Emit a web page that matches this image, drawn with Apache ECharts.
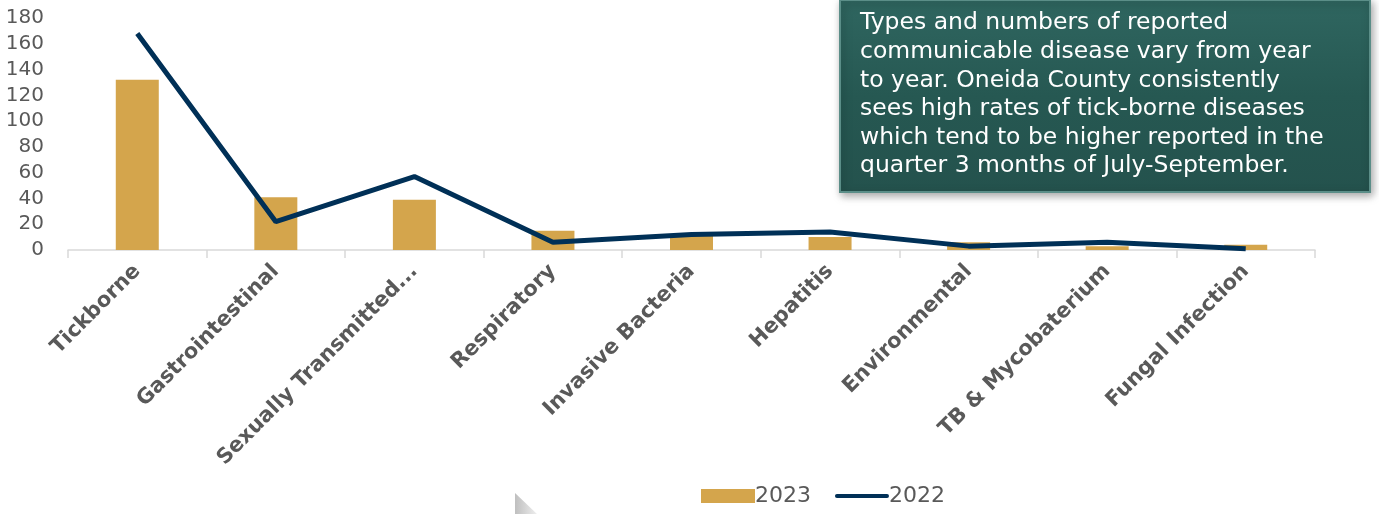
<!DOCTYPE html>
<html><head><meta charset="utf-8">
<script src="https://cdn.jsdelivr.net/npm/echarts@6/dist/echarts.min.js"></script>
<style>html,body{margin:0;padding:0;background:#fff}#c{width:1379px;height:514px}</style>
</head><body><div id="c"></div>
<script>
const categories = ['Tickborne','Gastrointestinal','Sexually Transmitted Infections','Respiratory','Invasive Bacteria','Hepatitis','Environmental','TB & Mycobaterium','Fungal Infection'];
const values2023 = [132, 41, 39, 15, 12, 10, 6, 3, 4];
const values2022 = [168, 22, 57, 6, 12, 14, 3, 6, 1];
const yTicks = [0, 20, 40, 60, 80, 100, 120, 140, 160, 180];
const noteLines = ['Types and numbers of reported','communicable disease vary from year','to year. Oneida County consistently','sees high rates of tick-borne diseases','which tend to be higher reported in the','quarter 3 months of July-September.'];

const FONT = '"DejaVu Sans", sans-serif';
const chart = echarts.init(document.getElementById('c'));
chart.setOption({
  animation: false,
  grid: {left: 68, right: 64, top: 18, bottom: 264},
  legend: {
    bottom: 2, left: 696,
    itemGap: 24, itemWidth: 54, itemHeight: 14,
    textStyle: {color: '#595959', fontSize: 22, fontFamily: FONT, padding: [0,0,0,-5]},
    data: [
      {name: '2023', icon: 'rect'},
      {name: '2022', icon: 'path://M2,0 L54,0 A2,2 0 0 1 54,4 L2,4 A2,2 0 0 1 2,0 Z', itemStyle: {color: '#003057'}}
    ]
  },
  xAxis: {
    type: 'category', data: categories,
    axisLine: {lineStyle: {color: '#d9d9d9', width: 1.5}},
    axisTick: {show: true, length: 8, lineStyle: {color: '#d9d9d9', width: 1.5}},
    axisLabel: {
      rotate: 45, interval: 0, color: '#595959', fontSize: 21, fontWeight: 'bold', fontFamily: FONT, margin: 18,
      formatter: v => v.length > 22 ? v.slice(0, 20) + '...' : v
    }
  },
  yAxis: {
    type: 'value', min: 0, max: 180, interval: 20,
    splitLine: {show: false},
    axisLine: {show: false}, axisTick: {show: false},
    axisLabel: {color: '#595959', fontSize: 20, fontFamily: FONT, margin: 24,
      formatter: v => yTicks.includes(v) ? String(v) : ''}
  },
  series: [
    {name: '2023', type: 'bar', data: values2023, barWidth: 43, itemStyle: {color: '#D4A54C'}},
    {name: '2022', type: 'line', data: values2022, symbol: 'none', lineStyle: {color: '#003057', width: 5}, itemStyle: {color: '#003057'}}
  ],
  graphic: [
    {type: 'polygon', shape: {points: [[515,493],[515,514],[537,514]]},
      style: {fill: new echarts.graphic.LinearGradient(0,0,1,0,[{offset:0,color:'#bfbfbf'},{offset:1,color:'#eeeeee'}])}, z: 10},
    {type: 'rect', shape: {x: 840, y: 0, width: 530, height: 192},
      style: {fill: new echarts.graphic.LinearGradient(0,0,0,1,[{offset:0,color:'#2f6660'},{offset:0.5,color:'#265852'},{offset:1,color:'#24524d'}]),
        stroke: '#5b8e88', lineWidth: 2, shadowBlur: 8, shadowColor: 'rgba(0,0,0,0.35)', shadowOffsetX: 2, shadowOffsetY: 3}, z: 20},
    {type: 'text', left: 860, top: 9, z: 21,
      style: {text: noteLines.join('\n'), fill: '#ffffff', font: '23.5px ' + FONT, lineHeight: 28.6}}
  ]
});
</script></body></html>
